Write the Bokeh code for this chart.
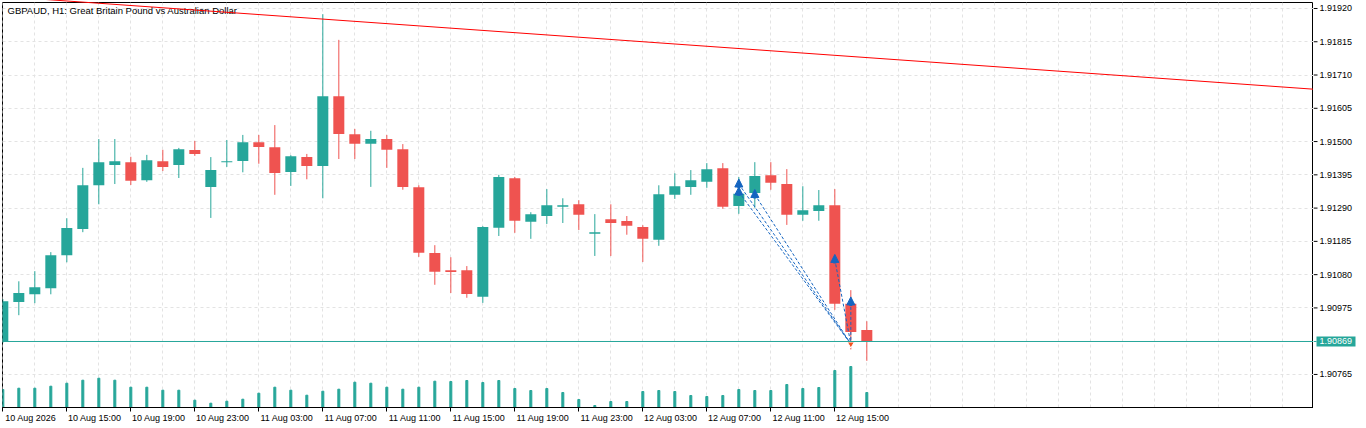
from bokeh.plotting import figure
from bokeh.layouts import row
from bokeh.models import (ColumnDataSource, Range1d, FixedTicker, Span, Label, Arrow, NormalHead)
from bokeh.core.properties import value
from bokeh.embed import file_html
from bokeh.resources import INLINE

# ---------------- data ----------------
symbol_title = "GBPAUD, H1:  Great Britain Pound vs Australian Dollar"

bar_index = list(range(55))
opens = [1.90870, 1.90994, 1.91018, 1.91037, 1.91141, 1.91224, 1.91362, 1.91426, 1.91435, 1.91378,
         1.91438, 1.91426, 1.91473, 1.91357, 1.91435, 1.91439, 1.91498, 1.91482, 1.91404, 1.91451,
         1.91423, 1.91643, 1.91523, 1.91493, 1.91508, 1.91476, 1.91356, 1.91148, 1.91094, 1.91094,
         1.91010, 1.91228, 1.91384, 1.91247, 1.91265, 1.91294, 1.91302, 1.91209, 1.91255, 1.91249,
         1.91230, 1.91190, 1.91332, 1.91357, 1.91373, 1.91416, 1.91297, 1.91338, 1.91394, 1.91366,
         1.91269, 1.91281, 1.91299, 1.90988, 1.90905]
highs = [1.91003, 1.91059, 1.91091, 1.91151, 1.91258, 1.91417, 1.91508, 1.91508, 1.91452, 1.91458,
         1.91474, 1.91480, 1.91502, 1.91451, 1.91505, 1.91521, 1.91521, 1.91552, 1.91457, 1.91461,
         1.91902, 1.91821, 1.91540, 1.91534, 1.91521, 1.91492, 1.91362, 1.91173, 1.91135, 1.91107,
         1.91233, 1.91395, 1.91388, 1.91277, 1.91350, 1.91321, 1.91315, 1.91271, 1.91302, 1.91265,
         1.91236, 1.91362, 1.91400, 1.91410, 1.91432, 1.91432, 1.91388, 1.91435, 1.91435, 1.91413,
         1.91359, 1.91347, 1.91350, 1.91031, 1.90933]
lows = [1.90864, 1.90952, 1.90990, 1.91018, 1.91119, 1.91214, 1.91302, 1.91366, 1.91363, 1.91373,
        1.91407, 1.91385, 1.91455, 1.91259, 1.91420, 1.91403, 1.91430, 1.91332, 1.91360, 1.91381,
        1.91321, 1.91445, 1.91445, 1.91357, 1.91417, 1.91348, 1.91136, 1.91048, 1.91022, 1.91007,
        1.90991, 1.91202, 1.91212, 1.91193, 1.91240, 1.91243, 1.91221, 1.91139, 1.91139, 1.91206,
        1.91120, 1.91171, 1.91319, 1.91332, 1.91354, 1.91288, 1.91272, 1.91291, 1.91348, 1.91237,
        1.91250, 1.91250, 1.90969, 1.90844, 1.90808]
closes = [1.90996, 1.91022, 1.91040, 1.91141, 1.91227, 1.91362, 1.91435, 1.91438, 1.91376, 1.91441,
          1.91420, 1.91476, 1.91461, 1.91410, 1.91438, 1.91498, 1.91483, 1.91401, 1.91454, 1.91423,
          1.91643, 1.91524, 1.91493, 1.91508, 1.91474, 1.91357, 1.91149, 1.91089, 1.91088, 1.91019,
          1.91230, 1.91388, 1.91250, 1.91271, 1.91299, 1.91299, 1.91269, 1.91214, 1.91243, 1.91234,
          1.91193, 1.91334, 1.91359, 1.91378, 1.91413, 1.91294, 1.91335, 1.91391, 1.91370, 1.91269,
          1.91283, 1.91299, 1.90988, 1.90899, 1.90869]
tick_volumes = [900, 965, 965, 1065, 1215, 1365, 1465, 1365, 1015, 1015,
                865, 865, 365, 215, 315, 415, 715, 1015, 865, 615,
                815, 915, 1265, 1215, 1015, 915, 1015, 1315, 1300, 1350,
                1250, 1350, 950, 850, 950, 750, 400, 100, 300, 300,
                800, 850, 800, 600, 550, 600, 900, 850, 850, 1150,
                950, 1000, 1850, 2050, 750]

time_ticks = [0, 4, 8, 12, 16, 20, 24, 28, 32, 36, 40, 44, 48, 52]
time_labels = ["10 Aug 2026", "10 Aug 15:00", "10 Aug 19:00", "10 Aug 23:00",
               "11 Aug 03:00", "11 Aug 07:00", "11 Aug 11:00", "11 Aug 15:00",
               "11 Aug 19:00", "11 Aug 23:00", "12 Aug 03:00", "12 Aug 07:00",
               "12 Aug 11:00", "12 Aug 15:00"]
price_ticks = [1.91920, 1.91815, 1.91710, 1.91605, 1.91500, 1.91395, 1.91290,
               1.91185, 1.91080, 1.90975, 1.90765]
hidden_price_tick = 1.90870
current_price = 1.90869

trend_x = [0, 82]
trend_y = [1.91958, 1.91665]

entry_x = [46, 46, 47, 52, 53]
entry_y = [1.91366, 1.91341, 1.91333, 1.91128, 1.90994]
exit_x = 53
exit_y = 1.90861

# ---------------- styling ----------------
UP = "#26A69A"
DOWN = "#EF5350"
TRADE_BLUE = "#1565C0"
FONT = "Liberation Sans"

FRAME_W, FRAME_H = 1311, 405
SCALE_W = 47
BOTTOM = 14
PX_PER_BAR = 16
LABEL_SHIFT = 28 / PX_PER_BAR      # time labels start just right of their tick
x_start = -0.02
x_end = x_start + FRAME_W / PX_PER_BAR
y_hi = 1.919389
y_lo = 1.906607
PRICE_PER_PX = (y_hi - y_lo) / FRAME_H
vol_top = 20250
price_range = Range1d(y_lo, y_hi)

colors = [UP if c >= o else DOWN for o, c in zip(opens, closes)]
src = ColumnDataSource(dict(
    x=bar_index, open=opens, high=highs, low=lows, close=closes,
    top=[max(o, c) for o, c in zip(opens, closes)],
    bottom=[min(o, c) for o, c in zip(opens, closes)],
    vol=tick_volumes, color=colors))

# ---------------- main chart ----------------
p = figure(frame_width=FRAME_W, frame_height=FRAME_H,
           x_range=Range1d(x_start, x_end), y_range=price_range,
           y_axis_location=None, output_backend="svg", toolbar_location=None,
           min_border_left=2, min_border_top=2, min_border_right=0, min_border_bottom=BOTTOM,
           background_fill_color="white", border_fill_color="white",
           outline_line_color="black", outline_line_width=1)

p.extra_y_ranges = {"vol": Range1d(0, vol_top)}

# grid
p.xgrid.ticker = FixedTicker(ticks=list(range(0, 82, 2)))
p.ygrid.ticker = FixedTicker(ticks=price_ticks + [hidden_price_tick])
p.grid.grid_line_color = "#E3E3E3"
p.grid.grid_line_dash = "3 3"
p.grid.grid_line_width = 1

# time axis: tick marks are the minor ticks, labels sit just right of them
ax = p.xaxis[0]
ax.ticker = FixedTicker(ticks=[t + LABEL_SHIFT for t in time_ticks], minor_ticks=time_ticks)
ax.major_label_overrides = {t + LABEL_SHIFT: lab for t, lab in zip(time_ticks, time_labels)}
ax.axis_line_color = "black"
ax.major_tick_line_color = None
ax.major_tick_in = 0
ax.major_tick_out = 0
ax.minor_tick_line_color = "black"
ax.minor_tick_in = 0
ax.minor_tick_out = 4
ax.major_label_standoff = 1
ax.major_label_text_font = FONT
ax.major_label_text_font_size = "9px"
ax.major_label_text_color = "black"

# volumes
p.vbar(x="x", top="vol", bottom=0, width=2 / PX_PER_BAR, color=UP, source=src,
       y_range_name="vol")

# current price line
p.add_layout(Span(location=current_price, dimension="width", line_color=UP, line_width=1))

# candles
p.segment(x0="x", y0="high", x1="x", y1="low", line_color="color", line_width=1, source=src)
p.vbar(x="x", top="top", bottom="bottom", width=11 / PX_PER_BAR, fill_color="color",
       line_color=None, source=src)

# trend line
tr = p.line(trend_x, trend_y, line_color="#FF0000", line_width=1)
tr.level = "overlay"

# trades: dashed links from each buy to the closing deal
p.segment(x0=entry_x, y0=entry_y, x1=[exit_x] * len(entry_x), y1=[exit_y] * len(entry_y),
          line_color=TRADE_BLUE, line_width=1, line_dash="3 2")
arrow_src = ColumnDataSource(dict(
    xs=entry_x, xe=entry_x,
    ys=[y - 4 * PRICE_PER_PX for y in entry_y],
    ye=[y + 5 * PRICE_PER_PX for y in entry_y]))
p.add_layout(Arrow(end=NormalHead(size=8, fill_color=TRADE_BLUE, line_color=TRADE_BLUE,
                                  line_width=1),
                   x_start="xs", y_start="ys", x_end="xe", y_end="ye", source=arrow_src,
                   line_color=TRADE_BLUE, line_width=3))
p.scatter(x=[exit_x], y=[exit_y], marker="inverted_triangle", size=7, fill_color="#F4511E",
          line_color="white", line_width=1)

# title
p.add_layout(Label(x=x_start, y=y_hi, x_offset=5, y_offset=-2, text=symbol_title,
                   text_baseline="top", text_align="left", text_font=FONT,
                   text_font_size="9.5px", text_color="black"))

# ---------------- price scale (right) ----------------
s = figure(frame_width=SCALE_W, frame_height=FRAME_H,
           x_range=Range1d(0, SCALE_W), y_range=price_range,
           x_axis_location=None, y_axis_location=None,
           output_backend="svg", toolbar_location=None,
           min_border_left=0, min_border_top=2, min_border_right=0, min_border_bottom=BOTTOM,
           background_fill_color="white", border_fill_color="white",
           outline_line_color=None)
s.grid.visible = False

s.segment(x0=0, y0=price_ticks, x1=4, y1=price_ticks, line_color="black", line_width=1)
s.text(x=6, y=price_ticks, text=[f"{t:.5f}" for t in price_ticks],
       text_font=value(FONT), text_font_size="9px", text_color="black",
       text_baseline="middle", text_align="left")

# current price tag
s.rect(x=[22.5], y=[current_price], width=39, height=10, height_units="screen",
       fill_color=UP, line_color=None)
s.segment(x0=[0], y0=[current_price], x1=[3], y1=[current_price], line_color=UP, line_width=1)
s.text(x=[6], y=[current_price], text=[f"{current_price:.5f}"],
       text_font=value(FONT), text_font_size="9px", text_color="white",
       text_baseline="middle", text_align="left")

layout = row(p, s)
open("out.html", "w").write(file_html(layout, INLINE))
